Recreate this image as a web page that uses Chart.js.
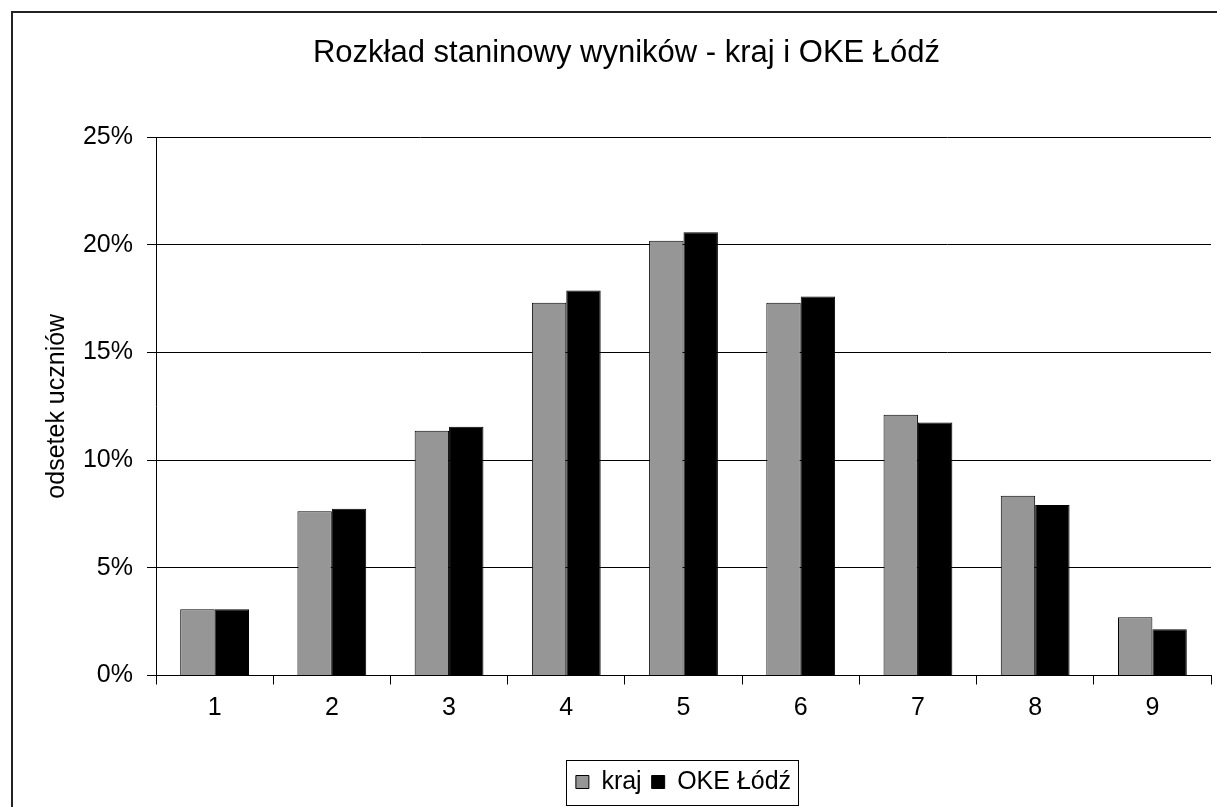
<!DOCTYPE html>
<html lang="pl">
<head>
<meta charset="utf-8">
<title>Rozkład staninowy wyników</title>
<script src="https://cdn.jsdelivr.net/npm/chart.js@4.4.1/dist/chart.umd.min.js"></script>
<style>
  html, body { margin: 0; padding: 0; background: #fff; overflow: hidden; }
  #ramka { position: absolute; left: 11px; top: 11px; width: 1300px; height: 900px; border: 2px solid #222; }
  #wykres { position: absolute; left: 0; top: 0; }
</style>
</head>
<body>
<div id="ramka"></div>
<canvas id="wykres" width="1217" height="807"></canvas>
<script>
// staniny 1-9, odsetek uczniów w %
const staniny = ['1', '2', '3', '4', '5', '6', '7', '8', '9'];
const kraj = [3.07, 7.63, 11.36, 17.3, 20.18, 17.3, 12.1, 8.35, 2.7];
const okeLodz = [3.07, 7.74, 11.55, 17.87, 20.58, 17.6, 11.75, 7.92, 2.15];
const etykietyY = ['0%', '5%', '10%', '15%', '20%', '25%'];

Chart.defaults.font.family = "'Liberation Sans', Arial, sans-serif";
Chart.defaults.color = '#000';

// legenda pod obszarem wykresu + ramka wokół niej
const legendaWRamce = {
  id: 'legendaWRamce',
  afterLayout(chart) {
    const lg = chart.legend;
    lg.left = chart.chartArea.left;
    lg.right = chart.chartArea.right;
  },
  afterDraw(chart) {
    const lg = chart.legend;
    const ctx = chart.ctx;
    const szer = lg.lineWidths[0] - lg.options.labels.padding;
    const x0 = (lg.left + lg.right - szer) / 2 - 10;
    ctx.save();
    ctx.strokeStyle = '#000';
    ctx.lineWidth = 1;
    ctx.strokeRect(Math.round(x0) + 0.5, Math.round(lg.top) + 0.5, Math.round(szer + 17), 45);
    ctx.restore();
  }
};

new Chart(document.getElementById('wykres'), {
  type: 'bar',
  data: {
    labels: staniny,
    datasets: [
      { label: 'kraj', data: kraj, backgroundColor: '#969696', borderColor: '#000', borderWidth: 1 },
      { label: 'OKE Łódź', data: okeLodz, backgroundColor: '#000', borderColor: '#000', borderWidth: 1 }
    ]
  },
  options: {
    responsive: false,
    animation: false,
    devicePixelRatio: 1,
    layout: { padding: { left: 42, right: 6, top: 0, bottom: 2.5 } },
    datasets: { bar: { categoryPercentage: 0.587, barPercentage: 1 } },
    plugins: {
      title: {
        display: true,
        text: 'Rozkład staninowy wyników - kraj i OKE Łódź',
        font: { size: 31, weight: 'normal' },
        color: '#000',
        padding: { top: 34.4, bottom: 65.4 }
      },
      legend: {
        position: 'bottom',
        labels: { boxWidth: 13, boxHeight: 13, padding: 10, font: { size: 25 } }
      },
      tooltip: { enabled: false }
    },
    scales: {
      x: {
        grid: { offset: true, drawOnChartArea: false, color: '#000', tickLength: 9 },
        border: { color: '#000' },
        ticks: { padding: 9, font: { size: 25 } },
        afterFit(s) { s.height = 84; }
      },
      y: {
        min: 0,
        max: 25,
        grid: { color: '#000', tickLength: 9 },
        border: { color: '#000' },
        ticks: { stepSize: 5, padding: 14, font: { size: 25 }, callback: (v, i) => etykietyY[i] },
        title: { display: true, text: 'odsetek uczniów', font: { size: 25 }, padding: { top: 0, bottom: 0 } },
        afterFit(s) { s.width = 114; }
      }
    }
  },
  plugins: [legendaWRamce]
});
</script>
</body>
</html>
